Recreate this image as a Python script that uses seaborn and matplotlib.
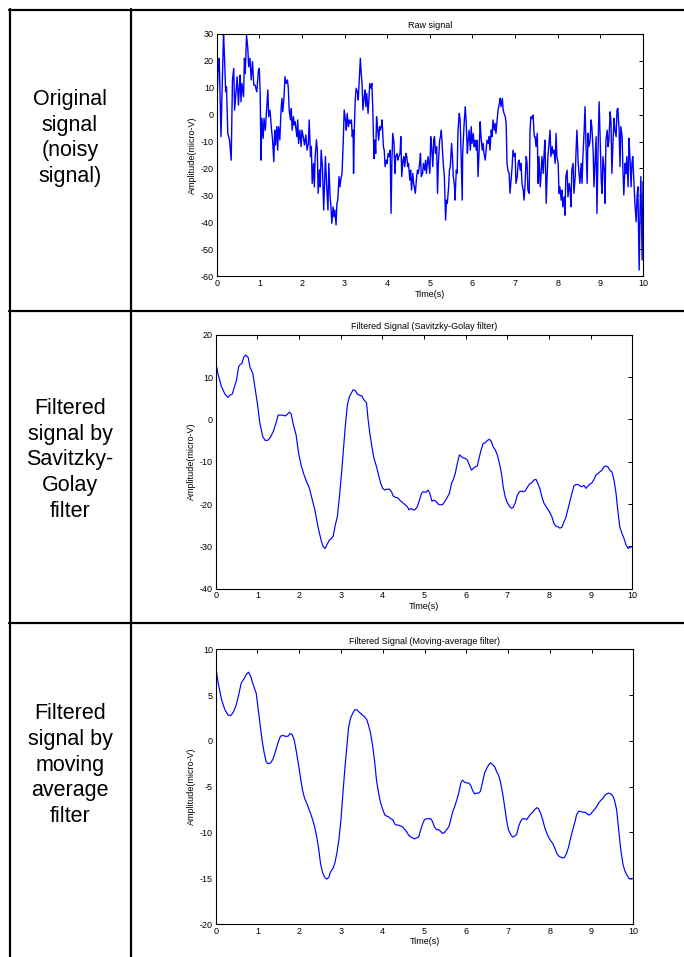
import matplotlib
matplotlib.use("Agg")
import matplotlib.pyplot as plt
from matplotlib.lines import Line2D
import seaborn as sns
import pandas as pd

# ==========================
# Data
# ==========================

raw_t = [
    0.00, 0.04, 0.06, 0.10, 0.16, 0.18, 0.21, 0.23, 0.26, 0.30, 0.34, 0.37, 0.40, 0.42, 0.45, 0.48,
    0.51, 0.53, 0.55, 0.57, 0.59, 0.63, 0.65, 0.67, 0.70, 0.73, 0.75, 0.78, 0.81, 0.84, 0.87, 0.90,
    0.94, 0.98, 1.00, 1.02, 1.04, 1.06, 1.09, 1.11, 1.14, 1.17, 1.20, 1.22, 1.25, 1.28, 1.31, 1.34,
    1.36, 1.38, 1.41, 1.43, 1.45, 1.48, 1.51, 1.53, 1.55, 1.58, 1.60, 1.63, 1.66, 1.68, 1.70, 1.73,
    1.75, 1.77, 1.80, 1.82, 1.84, 1.88, 1.90, 1.92, 1.95, 1.98, 2.00, 2.03, 2.06, 2.09, 2.12, 2.15,
    2.17, 2.20, 2.22, 2.24, 2.27, 2.29, 2.31, 2.34, 2.36, 2.38, 2.41, 2.43, 2.45, 2.48, 2.51,
    2.55, 2.58, 2.61, 2.63, 2.66, 2.68, 2.70, 2.73, 2.75, 2.77, 2.80, 2.82, 2.84, 2.87, 2.89, 2.91,
    2.94, 2.97, 2.99, 3.02, 3.04, 3.06, 3.09, 3.11, 3.13, 3.16, 3.18, 3.20, 3.21, 3.23, 3.25, 3.27,
    3.30, 3.32, 3.34, 3.37, 3.39, 3.41, 3.43, 3.46, 3.48, 3.50, 3.52, 3.55, 3.57, 3.59, 3.62, 3.64,
    3.66, 3.69, 3.71, 3.73, 3.75, 3.77, 3.80, 3.82, 3.84, 3.86, 3.88, 3.91, 3.93, 3.95, 3.98, 4.00,
    4.02, 4.05, 4.07, 4.09, 4.11, 4.13, 4.16, 4.18, 4.20, 4.23, 4.25, 4.27, 4.30, 4.32, 4.34, 4.37,
    4.39, 4.41, 4.44, 4.46, 4.48, 4.50, 4.53, 4.55, 4.57, 4.60, 4.62, 4.66, 4.69, 4.71, 4.73, 4.76,
    4.78, 4.80, 4.83, 4.85, 4.88, 4.90, 4.92, 4.94, 4.96,
    5.00, 5.02, 5.04, 5.07, 5.09, 5.11, 5.13, 5.16, 5.18, 5.20, 5.23, 5.25, 5.27, 5.30, 5.32, 5.34,
    5.37, 5.39, 5.41, 5.44, 5.46, 5.48, 5.51, 5.53, 5.55, 5.58, 5.59, 5.62, 5.64, 5.66, 5.69, 5.71,
    5.73, 5.76, 5.77, 5.80, 5.83, 5.85, 5.88, 5.90, 5.92, 5.95, 5.97, 5.99, 6.02, 6.04, 6.06, 6.09,
    6.11, 6.13, 6.16, 6.18, 6.20, 6.23, 6.25, 6.27, 6.30, 6.32, 6.34, 6.37, 6.39, 6.41, 6.44, 6.46,
    6.48, 6.51, 6.53, 6.55, 6.58, 6.60, 6.63, 6.65, 6.67, 6.70, 6.72, 6.74, 6.77, 6.79, 6.81, 6.83,
    6.86, 6.88, 6.91, 6.93, 6.95, 6.98, 7.00, 7.02, 7.05, 7.07, 7.09, 7.12, 7.14, 7.16, 7.19, 7.21,
    7.23, 7.26, 7.28, 7.30, 7.33, 7.35, 7.37, 7.40,
    7.42, 7.45, 7.47, 7.49, 7.52, 7.54, 7.56, 7.59, 7.61, 7.63, 7.66, 7.68, 7.70, 7.73, 7.75, 7.77,
    7.80, 7.82, 7.84, 7.87, 7.89, 7.91, 7.94, 7.96, 7.98, 8.01, 8.03, 8.05, 8.08, 8.10, 8.12, 8.15,
    8.17, 8.19, 8.22, 8.24, 8.27, 8.29, 8.31, 8.33, 8.36, 8.38, 8.41, 8.43, 8.45, 8.48, 8.50, 8.52,
    8.55, 8.57, 8.59, 8.62, 8.64, 8.66, 8.69, 8.71, 8.73, 8.76, 8.78, 8.80, 8.83, 8.85, 8.88, 8.90,
    8.92, 8.95, 8.97, 8.99, 9.02, 9.04, 9.06, 9.09, 9.11, 9.13, 9.16, 9.18, 9.20, 9.23, 9.25, 9.27,
    9.30, 9.32, 9.34, 9.37, 9.39, 9.41, 9.44, 9.46, 9.48, 9.51, 9.53, 9.55, 9.58, 9.60, 9.62, 9.65,
    9.67, 9.69, 9.72, 9.74, 9.76, 9.79, 9.81, 9.84, 9.86, 9.88, 9.91, 9.93, 9.95, 9.98, 10.00,
]
raw_v = [
    1.6, 20.2, 20.8, -8.2, 30.0, 22.6, 8.4, 10.3, -7.0, -9.4, -16.9, 12.8, 17.1, 1.6, 7.8, 14.0,
    3.5, 9.7, 14.6, 4.7, 11.5, 6.6, 20.8, 15.2, 29.4, 24.5, 17.7, 20.8, 12.8, 19.6, 10.9, 10.9,
    8.4, 16.5, 17.1, 7.8, -16.9, -1.4, -8.8, -1.4, -5.8, 1.6, 9.1, -0.8, 1.6, -4.5, -9.4, -17.5,
    -5.8, -11.3, -4.5, -13.2, -4.5, -9.4, 1.6, 6.0, 1.0, 6.6, 14.0, 11.5, 12.8, 9.7, 1.6, -2.0,
    2.2, -5.8, -0.8, -3.9, -2.7, -8.2, -2.0, -10.7, -5.8, -11.9, -5.8, -8.2, -11.3, -7.6, -13.2, -10.7,
    -2.0, -15.6, -11.9, -25.5, -18.1, -26.8, -15.6, -9.4, -13.2, -29.2, -20.5, -26.8, -13.2, -19.3, -35.4,
    -15.6, -26.8, -35.4, -18.1, -30.5, -34.2, -40.3, -34.2, -37.9, -35.4, -40.9, -32.9, -31.7, -23.0, -26.8, -24.3,
    -21.8, -9.5, 1.7, -2.0, -5.8, 0.4, -4.5, -2.0, -3.3, -2.0, -8.2, -5.8, -21.8, -4.5, 5.4, 9.7,
    8.4, 5.4, 11.5, 20.8, 15.2, 11.5, 1.7, 6.6, 9.1, 2.9, 7.8, 0.4, 5.4, 11.5, 9.7, 11.5,
    2.9, -16.3, -9.5, -14.4, -0.8, -4.5, -9.5, -4.5, -5.8, -4.5, -2.0, -11.9, -13.2, -19.3, -16.9, -18.1,
    -14.4, -15.6, -13.2, -36.6, -16.9, -7.0, -10.7, -21.8, -15.6, -14.4, -16.9, -15.6, -14.4, -8.2, -23.0, -16.9,
    -15.6, -19.3, -14.4, -15.6, -19.3, -18.1, -24.3, -20.6, -28.0, -21.8, -25.5, -29.2, -23.0, -20.6, -21.8, -18.1,
    -14.4, -23.0, -21.8, -18.1, -20.6, -16.9, -21.8, -18.1, -15.6,
    -21.8, -8.2, -11.9, -19.3, -9.5, -8.2, -14.4, -11.9, -29.2, -18.1, -9.5, -8.2, -5.8, -14.4, -19.3, -23.0,
    -39.1, -31.7, -32.9, -26.8, -20.6, -19.3, -10.7, -15.6, -23.0, -26.8, -31.7, -20.6, -21.8, -5.8, 0.4, -2.0,
    -13.2, -31.7, -14.4, -4.5, 2.9, -2.0, -14.4, -9.5, -5.8, -13.2, -4.5, -10.7, -7.0, -11.9, -9.5, -13.2,
    -9.5, -23.0, -11.9, -2.7, -8.2, -13.2, -10.7, -14.4, -16.9, -13.2, -9.5, -10.7, -8.2, -13.2, -5.8, -8.2,
    -2.0, -5.8, -3.3, -7.0, -2.0, 1.7, 4.1, 6.0, 2.9, 6.0, 1.7, 0.4, -0.8, -3.3, -18.1, -20.6,
    -21.8, -29.2, -23.0, -19.3, -13.2, -15.6, -14.4, -25.5, -23.0, -18.1, -16.9, -20.6, -18.1, -25.5, -28.0, -31.7,
    -26.8, -15.6, -18.1, -28.0, -29.2, -5.8, -0.8, -1.5,
    -0.2, -8.2, -8.2, -11.9, -7.0, -25.5, -15.6, -26.8, -21.8, -15.6, -21.8, -14.4, -9.5, -32.9, -23.0, -15.6,
    -9.5, -5.8, -15.6, -11.9, -14.4, -13.2, -18.1, -7.0, -15.6, -18.1, -29.2, -26.8, -31.7, -28.0, -34.2, -30.5,
    -37.3, -23.0, -20.6, -30.5, -25.5, -28.0, -34.2, -20.6, -18.1, -29.2, -23.0, -13.2, -5.8, -18.1, -21.8, -25.5,
    -18.1, -25.5, -15.6, -5.8, 2.9, -9.5, -25.5, -7.0, -11.9, -9.5, -2.0, -4.5, -13.2, -26.8, -15.6, -8.2,
    -36.6, -9.5, 4.7, -5.8, -24.3, -29.2, -15.6, -20.6, -32.9, -9.5, -5.8, -11.9, -9.5, 1.0, -3.3, -21.8,
    -8.8, -1.4, -5.8, -8.2, 1.7, 2.3, -5.8, -19.3, -4.5, -8.2, -20.6, -29.8, -18.1, -21.8, -15.6, -26.8,
    -8.8, -14.4, -26.8, -18.1, -15.6, -25.5, -32.9, -39.7, -30.5, -26.8, -57.6, -36.6, -23.0, -53.9, -24.9,
]

sg_t = [
    0.00, 0.06, 0.14, 0.22, 0.29, 0.34, 0.40, 0.45, 0.50, 0.55, 0.59, 0.63, 0.67, 0.72, 0.78, 0.82,
    0.89, 0.94, 1.00, 1.06, 1.13, 1.19, 1.26, 1.32, 1.38, 1.45, 1.50, 1.54, 1.61, 1.67, 1.72, 1.77,
    1.81, 1.86, 1.93, 1.99, 2.06, 2.12, 2.18, 2.25, 2.31, 2.38, 2.44, 2.49, 2.54, 2.58, 2.63, 2.68,
    2.73, 2.78, 2.82, 2.87, 2.92, 2.97, 3.02, 3.06, 3.11, 3.16, 3.21, 3.26, 3.30, 3.35, 3.40, 3.45,
    3.51, 3.56, 3.62, 3.66, 3.70, 3.75, 3.80, 3.86, 3.91, 3.96, 4.01, 4.06, 4.10, 4.17, 4.22, 4.26,
    4.31, 4.38, 4.42, 4.49, 4.55, 4.60, 4.64, 4.69, 4.74, 4.79, 4.84, 4.89, 4.94, 4.98, 5.05, 5.10,
    5.14, 5.19, 5.24, 5.29, 5.34, 5.38, 5.45, 5.50, 5.54, 5.61, 5.66, 5.70, 5.75, 5.80, 5.85, 5.90,
    5.94, 5.99, 6.04, 6.09, 6.14, 6.18, 6.23, 6.28, 6.33, 6.38, 6.42, 6.47, 6.52, 6.57, 6.62, 6.66,
    6.71, 6.76, 6.81, 6.86, 6.90, 6.95, 7.00, 7.05, 7.10, 7.14, 7.19, 7.24, 7.29, 7.34, 7.38, 7.43,
    7.49, 7.53, 7.58, 7.64, 7.69, 7.74, 7.78, 7.83, 7.88, 7.93, 7.98, 8.02, 8.07, 8.12, 8.17, 8.22,
    8.26, 8.31, 8.36, 8.41, 8.46, 8.50, 8.55, 8.60, 8.65, 8.70, 8.74, 8.79, 8.84, 8.89, 8.94, 8.98,
    9.03, 9.08, 9.13, 9.18, 9.22, 9.27, 9.32, 9.37, 9.42, 9.46, 9.51, 9.56, 9.61, 9.66, 9.70, 9.75,
    9.80, 9.85, 9.90, 9.94, 10.00,
]
sg_v = [
    13.6, 10.5, 7.7, 6.0, 5.2, 5.7, 6.0, 7.7, 9.3, 12.4, 13.0, 13.2, 14.6, 15.2, 14.6, 12.4,
    10.9, 7.7, 3.8, -0.9, -4.1, -5.0, -4.9, -4.1, -2.9, -0.8, 1.0, 1.0, 1.0, 0.8, 1.2, 1.7,
    1.3, -1.1, -3.7, -8.0, -11.2, -13.1, -14.7, -16.3, -18.7, -21.4, -24.6, -26.9, -28.9, -30.1, -30.5, -29.4,
    -28.5, -28.1, -27.6, -25.0, -23.0, -18.3, -12.8, -8.0, -1.7, 3.4, 5.4, 6.3, 7.0, 6.8, 6.0, 5.7,
    5.5, 4.6, 3.9, -0.2, -3.3, -6.5, -9.2, -11.2, -13.1, -15.1, -16.3, -16.7, -16.5, -16.5, -17.1, -18.1,
    -18.4, -18.6, -19.1, -19.7, -20.2, -20.6, -21.4, -21.0, -21.4, -21.3, -20.6, -19.1, -17.5, -17.1, -17.2, -16.7,
    -17.5, -19.3, -19.1, -19.4, -20.0, -20.2, -20.1, -19.4, -18.7, -17.5, -15.1, -14.3, -12.8, -10.4, -8.4, -8.8,
    -9.1, -9.2, -9.6, -10.8, -12.0, -11.6, -11.2, -11.0, -8.8, -6.9, -5.7, -5.5, -5.0, -4.7, -5.3, -6.5,
    -7.2, -8.4, -10.4, -12.8, -15.9, -18.3, -19.7, -20.5, -21.0, -20.8, -19.7, -17.9, -17.1, -16.9, -17.1, -16.9,
    -15.9, -15.3, -15.0, -14.3, -14.2, -15.3, -16.3, -18.3, -19.8, -20.6, -21.4, -22.0, -23.0, -24.6, -25.2, -25.4,
    -25.7, -25.5, -24.2, -23.0, -21.0, -19.4, -17.5, -15.7, -15.4, -15.4, -15.7, -15.9, -15.6, -16.3, -15.7, -15.3,
    -15.0, -14.2, -13.1, -12.8, -12.4, -12.0, -11.2, -11.0, -11.3, -12.0, -12.4, -14.3, -17.5, -22.2, -25.4, -26.9,
    -28.1, -29.7, -30.5, -30.2, -30.1,
]

ma_t = [
    0.00, 0.06, 0.14, 0.22, 0.30, 0.37, 0.43, 0.49, 0.55, 0.61, 0.68, 0.74, 0.79, 0.84, 0.90, 0.97,
    1.01, 1.06, 1.11, 1.16, 1.21, 1.25, 1.32, 1.38, 1.44, 1.50, 1.55, 1.60, 1.67, 1.73, 1.78, 1.83,
    1.88, 1.94, 1.99, 2.04, 2.08, 2.13, 2.18, 2.23, 2.27, 2.32, 2.37, 2.42, 2.47, 2.51, 2.56, 2.61,
    2.66, 2.71, 2.75, 2.80, 2.85, 2.90, 2.95, 3.00, 3.04, 3.09, 3.14, 3.18, 3.23, 3.28, 3.33, 3.38,
    3.42, 3.47, 3.52, 3.57, 3.62, 3.66, 3.71, 3.76, 3.81, 3.85, 3.90, 3.95, 4.00, 4.05, 4.09, 4.14,
    4.19, 4.24, 4.29, 4.33, 4.38, 4.43, 4.48, 4.53, 4.57, 4.62, 4.67, 4.72, 4.76, 4.81, 4.86, 4.91,
    4.96, 5.00, 5.05, 5.10, 5.15, 5.19, 5.24, 5.29, 5.34, 5.39, 5.43, 5.48, 5.53, 5.58, 5.63, 5.67,
    5.72, 5.77, 5.82, 5.87, 5.91, 5.96, 6.01, 6.06, 6.11, 6.15, 6.20, 6.25, 6.30, 6.34, 6.39, 6.44,
    6.49, 6.54, 6.58, 6.63, 6.68, 6.73, 6.77, 6.82, 6.87, 6.92, 6.97, 7.01, 7.06, 7.11, 7.16, 7.21,
    7.25, 7.30, 7.35, 7.40, 7.45, 7.49, 7.54, 7.59, 7.64, 7.69, 7.73, 7.78, 7.83, 7.88, 7.93, 7.97,
    8.02, 8.07, 8.12, 8.17, 8.22, 8.26, 8.31, 8.36, 8.40, 8.45, 8.50, 8.55, 8.60, 8.64, 8.69, 8.74,
    8.79, 8.84, 8.88, 8.93, 8.98, 9.03, 9.07, 9.12, 9.17, 9.22, 9.27, 9.31, 9.36, 9.41, 9.46, 9.51,
    9.55, 9.60, 9.65, 9.70, 9.75, 9.79, 9.84, 9.89, 9.94, 10.00,
]
ma_v = [
    8.1, 6.3, 4.5, 3.4, 2.8, 2.8, 3.2, 3.9, 5.0, 6.3, 6.8, 7.3, 7.5, 7.0, 6.1, 5.2,
    3.7, 1.9, 0.1, -1.3, -2.3, -2.5, -2.4, -1.9, -1.0, -0.1, 0.5, 0.6, 0.5, 0.5, 0.8, 0.7,
    0.1, -1.4, -2.8, -4.3, -5.4, -6.3, -6.8, -7.4, -7.9, -8.6, -9.4, -10.5, -11.9, -13.4, -14.4, -14.9,
    -15.1, -14.9, -14.3, -14.0, -13.4, -12.3, -10.8, -8.6, -6.1, -3.2, -0.6, 1.4, 2.5, 3.0, 3.4, 3.4,
    3.2, 3.0, 2.8, 2.6, 2.3, 1.7, 0.8, -0.6, -2.4, -4.3, -5.7, -6.8, -7.5, -8.1, -8.2, -8.3,
    -8.5, -8.6, -9.1, -9.2, -9.2, -9.3, -9.4, -9.7, -9.9, -10.3, -10.5, -10.6, -10.7, -10.6, -10.5, -9.7,
    -9.0, -8.6, -8.5, -8.5, -8.5, -8.8, -9.4, -9.7, -9.7, -9.9, -10.1, -10.0, -9.7, -9.4, -8.6, -7.8,
    -7.2, -6.5, -5.7, -4.6, -4.3, -4.5, -4.6, -4.6, -4.9, -5.4, -5.8, -5.7, -5.7, -5.5, -4.5, -3.5,
    -3.0, -2.6, -2.4, -2.6, -2.8, -3.4, -3.7, -4.5, -5.7, -7.2, -8.8, -9.7, -10.2, -10.5, -10.4, -10.2,
    -9.4, -8.8, -8.5, -8.5, -8.6, -8.3, -8.0, -7.8, -7.5, -7.3, -7.4, -7.9, -8.6, -9.5, -10.1, -10.5,
    -10.9, -11.2, -11.7, -12.3, -12.6, -12.7, -12.8, -12.7, -12.3, -11.6, -10.6, -9.7, -8.9, -8.1, -7.7, -7.7,
    -7.8, -7.8, -7.9, -8.1, -8.0, -7.7, -7.5, -7.2, -6.8, -6.5, -6.3, -6.0, -5.8, -5.7, -5.8, -6.0,
    -6.5, -7.5, -9.7, -11.9, -13.4, -14.1, -14.6, -15.0, -15.1, -15.0,
]

row_labels = [
    "Original\nsignal\n(noisy\nsignal)",
    "Filtered\nsignal by\nSavitzky-\nGolay\nfilter",
    "Filtered\nsignal by\nmoving\naverage\nfilter",
]
titles = [
    "Raw signal",
    "Filtered Signal (Savitzky-Golay filter)",
    "Filtered Signal (Moving-average filter)",
]
y_ticks = [
    [-60, -50, -40, -30, -20, -10, 0, 10, 20, 30],
    [-40, -30, -20, -10, 0, 10, 20],
    [-20, -15, -10, -5, 0, 5, 10],
]
x_ticks = list(range(0, 11))

# ==========================
# Style
# ==========================

sns.set_style("white")
plt.rcParams["font.family"] = ["Liberation Sans", "DejaVu Sans"]
plt.rcParams["axes.unicode_minus"] = False
plt.rcParams["text.color"] = "black"
plt.rcParams["axes.labelcolor"] = "black"

W, H = 684, 957
fig = plt.figure(figsize=(W / 100, H / 100), dpi=100)


def rect(left, top, right, bottom):
    return [left / W, 1 - bottom / H, (right - left) / W, (bottom - top) / H]


def hline(y, x0, x1):
    fig.add_artist(Line2D([x0 / W, x1 / W], [1 - y / H, 1 - y / H],
                          transform=fig.transFigure, color="black", lw=1.6))


def vline(x, y0, y1):
    fig.add_artist(Line2D([x / W, x / W], [1 - y0 / H, 1 - y1 / H],
                          transform=fig.transFigure, color="black", lw=1.6))


# table grid
hline(10, 9, W)
hline(311, 9, W)
hline(623, 9, W)
vline(10, 9, H)
vline(130.5, 9, H)

# row captions
label_y = [138, 460, 765]
for text, yc in zip(row_labels, label_y):
    fig.text(70 / W, 1 - yc / H, text, ha="center", va="center",
             fontsize=15.5, linespacing=1.3, color="black")

# axes boxes (pixels: left, top, right, bottom)
boxes = [
    (216.7, 33.5, 643.0, 276.5),
    (215.7, 334.7, 632.3, 588.7),
    (215.7, 649.3, 633.3, 924.0),
]
series = [(raw_t, raw_v), (sg_t, sg_v), (ma_t, ma_v)]

for i in range(3):
    ax = fig.add_axes(rect(*boxes[i]))
    df = pd.DataFrame({"Time": series[i][0], "Amplitude": series[i][1]})
    sns.lineplot(
        x="Time",
        y="Amplitude",
        data=df,
        ax=ax,
        color="#0000ff",
        linewidth=1.0 if i == 0 else 0.85,
        estimator=None,
        sort=False,
    )
    ax.set_xlim(0, 10)
    ax.set_ylim(y_ticks[i][0], y_ticks[i][-1])
    ax.set_xticks(x_ticks)
    ax.set_yticks(y_ticks[i])
    ax.tick_params(direction="in", top=True, right=True, length=3, width=0.7,
                   labelsize=6.5, pad=2, colors="black")
    for sp in ax.spines.values():
        sp.set_color("black")
        sp.set_linewidth(0.8)
    ax.set_title(titles[i], fontsize=6.5, pad=4, color="black")
    ax.set_xlabel("Time(s)", fontsize=6.5, labelpad=1)
    ax.set_ylabel("Amplitude(micro-V)", fontsize=6.5, labelpad=3)

plt.savefig("out.png", dpi=100)
plt.close()
